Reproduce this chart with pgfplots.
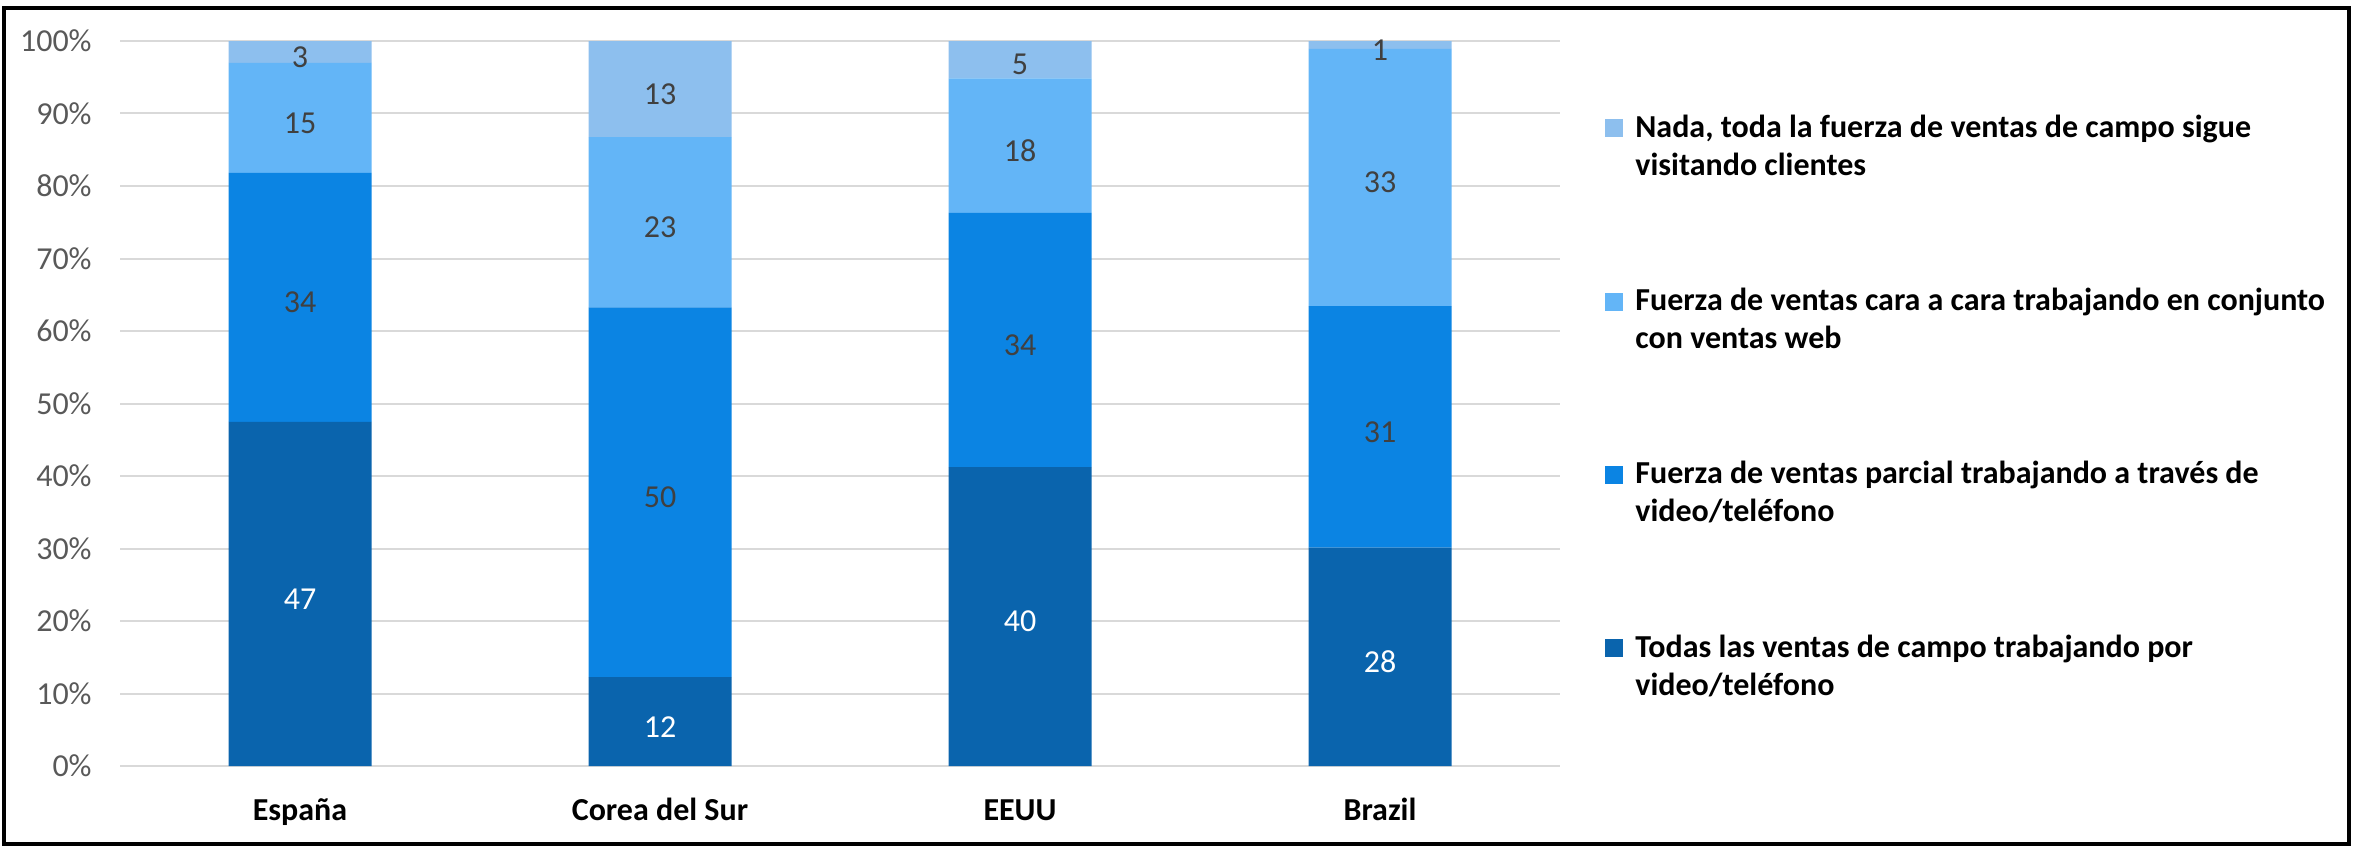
\documentclass[border=0pt]{standalone}
\usepackage{fontspec}
\setmainfont{Carlito}
\usepackage{pgfplots}
\pgfplotsset{compat=1.18}
\usepackage{pgfplotstable}

\definecolor{cTodas}{HTML}{0A64AD}
\definecolor{cParcial}{HTML}{0B84E3}
\definecolor{cCara}{HTML}{63B5F7}
\definecolor{cNada}{HTML}{8DBFEE}
\definecolor{gridc}{HTML}{D9D9D9}
\definecolor{ticktxt}{HTML}{595959}
\definecolor{lbltxt}{HTML}{404040}

% Respuestas por país (valores tal como se etiquetan)
\pgfplotstableread{
idx todas parcial cara nada
0   47    34      15   3
1   12    50      23   13
2   40    34      18   5
3   28    31      33   1
}\datos

% suma de la fila, para llevar cada barra al 100%
\newcommand{\total}{(\thisrow{todas}+\thisrow{parcial}+\thisrow{cara}+\thisrow{nada})}

\pgfplotsset{
  marco/.style={
    scale only axis, width=720pt, height=362.5pt,
    at={(60pt,-383pt)}, anchor=south west,
    xmin=-0.5, xmax=3.5, ymin=0, ymax=100,
  },
}

\begin{document}
\begin{tikzpicture}
\useasboundingbox (0,0) rectangle (1178pt,-425pt);

\begin{axis}[
  marco,
  ybar stacked, bar width=71.5pt,
  axis line style={draw=none},
  major tick length=0pt,
  ymajorgrids, grid style={gridc, line width=1pt},
  ytick={0,10,...,100},
  yticklabels={0\%,10\%,20\%,30\%,40\%,50\%,60\%,70\%,80\%,90\%,100\%},
  yticklabel style={font=\fontsize{16}{19}\selectfont, text=ticktxt, inner sep=0pt, xshift=-14pt},
  xtick={0,1,2,3},
  xticklabels={España,Corea del Sur,EEUU,Brazil},
  xticklabel style={font=\bfseries\fontsize{16}{19}\selectfont, anchor=base, inner sep=0pt, yshift=-27pt},
  reverse legend,
  % cuadro a la altura de la primera línea de cada entrada
  legend image code/.code={\fill[#1] (0pt,19pt) rectangle (9pt,28pt);},
  legend style={
    draw=none, fill=none, inner sep=0pt,
    at={(1.03125,0.899)}, anchor=north west,
    font=\bfseries\fontsize{16}{19}\selectfont,
    nodes={inner sep=0pt},
    cells={anchor=base west, align=left},
    column sep=6pt, row sep=55pt,
  },
]
\addplot[fill=cTodas, draw=none] table[x=idx, y expr={100*\thisrow{todas}/\total}] {\datos};
\addlegendentry{Todas las ventas de campo trabajando por\\\smash{video/teléfono}}
\addplot[fill=cParcial, draw=none] table[x=idx, y expr={100*\thisrow{parcial}/\total}] {\datos};
\addlegendentry{Fuerza de ventas parcial trabajando a través de\\\smash{video/teléfono}}
\addplot[fill=cCara, draw=none] table[x=idx, y expr={100*\thisrow{cara}/\total}] {\datos};
\addlegendentry{Fuerza de ventas cara a cara trabajando en conjunto\\\smash{con ventas web}}
\addplot[fill=cNada, draw=none] table[x=idx, y expr={100*\thisrow{nada}/\total}] {\datos};
\addlegendentry{Nada, toda la fuerza de ventas de campo sigue\\\smash{visitando clientes}}
\end{axis}

% etiquetas de valor, centradas en cada tramo
\begin{axis}[
  marco, hide axis, clip=false,
  nodes near coords, point meta=explicit symbolic,
  every node near coord/.append style={anchor=center, yshift=-2.5pt, font=\fontsize{16}{19}\selectfont},
]
\addplot[draw=none, nodes near coords style={text=white}]
  table[x=idx, y expr={100*(\thisrow{todas}/2)/\total}, meta=todas] {\datos};
\addplot[draw=none, nodes near coords style={text=lbltxt}]
  table[x=idx, y expr={100*(\thisrow{todas}+\thisrow{parcial}/2)/\total}, meta=parcial] {\datos};
\addplot[draw=none, nodes near coords style={text=lbltxt}]
  table[x=idx, y expr={100*(\thisrow{todas}+\thisrow{parcial}+\thisrow{cara}/2)/\total}, meta=cara] {\datos};
\addplot[draw=none, nodes near coords style={text=lbltxt}]
  table[x=idx, y expr={100*(\thisrow{todas}+\thisrow{parcial}+\thisrow{cara}+\thisrow{nada}/2)/\total}, meta=nada] {\datos};
\end{axis}

\draw[line width=2pt] (2pt,-4pt) rectangle (1174.5pt,-422pt);
\end{tikzpicture}
\end{document}
